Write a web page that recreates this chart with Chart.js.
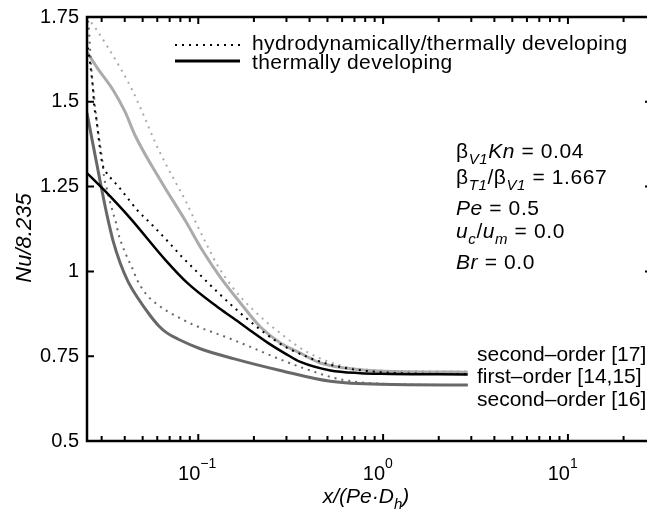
<!DOCTYPE html>
<html>
<head>
<meta charset="utf-8">
<script src="https://cdn.jsdelivr.net/npm/chart.js@4.4.1/dist/chart.umd.min.js"></script>
<style>
  html, body { margin: 0; padding: 0; background: #fff; overflow: hidden; }
  #wrap { position: absolute; left: 0; top: 0; width: 670px; height: 514px; }
</style>
</head>
<body>
<div id="wrap"><canvas id="chart" width="670" height="514"></canvas></div>
<script>
// Nu/8.235 vs x/(Pe*Dh)

// second-order [17] (light gray)
const so17ThermalX = [0.025, 0.0284, 0.0346, 0.0402, 0.0456, 0.0638, 0.085, 0.105, 0.1315, 0.169, 0.217, 0.278, 0.357, 0.458, 0.755, 1.3, 2.87];
const so17ThermalY = [1.647, 1.60, 1.535, 1.47, 1.40, 1.26, 1.15, 1.063, 0.983, 0.907, 0.836, 0.789, 0.759, 0.73, 0.71, 0.704, 0.703];
const so17HydroX = [0.025, 0.0277, 0.0325, 0.0378, 0.0439, 0.0516, 0.0585, 0.0662, 0.075, 0.085, 0.0988, 0.112, 0.127, 0.149, 0.169, 0.199, 0.237, 0.278, 0.327, 0.38, 0.488, 0.642, 1.244, 2.87];
const so17HydroY = [1.75, 1.718, 1.66, 1.60, 1.535, 1.45, 1.38, 1.32, 1.265, 1.21, 1.135, 1.075, 1.018, 0.962, 0.925, 0.886, 0.848, 0.818, 0.788, 0.765, 0.737, 0.718, 0.706, 0.705];

// first-order [14,15] (black)
const firstThermalX = [0.025, 0.0309, 0.0428, 0.0663, 0.0872, 0.127, 0.155, 0.191, 0.237, 0.297, 0.357, 0.519, 0.755, 0.969, 2.87];
const firstThermalY = [1.29, 1.24, 1.157, 1.034, 0.966, 0.895, 0.862, 0.826, 0.79, 0.757, 0.733, 0.708, 0.700, 0.698, 0.696];
const firstHydroX = [0.025, 0.0263, 0.027, 0.0273, 0.028, 0.0291, 0.0302, 0.0317, 0.0351, 0.0383, 0.0423, 0.0467, 0.0563, 0.0688, 0.0819, 0.1, 0.1237, 0.169, 0.211, 0.268, 0.304, 0.519, 0.969, 2.87];
const firstHydroY = [1.68, 1.59, 1.53, 1.49, 1.455, 1.38, 1.32, 1.293, 1.264, 1.24, 1.21, 1.181, 1.137, 1.087, 1.042, 0.995, 0.945, 0.877, 0.833, 0.792, 0.774, 0.725, 0.703, 0.697];

// second-order [16] (dark gray)
const so16ThermalX = [0.025, 0.0266, 0.0284, 0.0302, 0.0321, 0.0346, 0.0378, 0.0417, 0.0473, 0.0549, 0.061, 0.0679, 0.078, 0.1025, 0.155, 0.278, 0.519, 0.969, 2.87];
const so16ThermalY = [1.467, 1.39, 1.31, 1.235, 1.165, 1.09, 1.025, 0.97, 0.92, 0.87, 0.84, 0.818, 0.80, 0.772, 0.743, 0.708, 0.676, 0.667, 0.665];
const so16HydroX = [0.025, 0.0257, 0.0263, 0.027, 0.028, 0.0291, 0.0302, 0.0309, 0.0321, 0.0346, 0.0359, 0.0369, 0.0387, 0.0412, 0.0439, 0.0467, 0.0503, 0.0549, 0.0829, 0.155, 0.357, 0.611, 1.244, 2.87];
const so16HydroY = [1.78, 1.70, 1.61, 1.54, 1.46, 1.39, 1.33, 1.28, 1.24, 1.172, 1.143, 1.113, 1.078, 1.042, 1.01, 0.975, 0.945, 0.92, 0.857, 0.798, 0.718, 0.68, 0.667, 0.665];

// axes
const xMajorTicks = [0.1, 1, 10];
const xMajorExponents = ['\u22121', '0', '1'];
const xMinorTicks = [0.03, 0.04, 0.05, 0.06, 0.07, 0.08, 0.09, 0.2, 0.3, 0.4, 0.5, 0.6, 0.7, 0.8, 0.9, 2, 3, 4, 5, 6, 7, 8, 9, 20];
const yTicks = [0.5, 0.75, 1, 1.25, 1.5, 1.75];
const yTickLabels = ['0.5', '0.75', '1', '1.25', '1.5', '1.75'];

// curve end labels
const endLabels = ['second\u2013order [17]', 'first\u2013order [14,15]', 'second\u2013order [16]'];

const FONT = '"Liberation Sans", Arial, Helvetica, sans-serif';
const LIGHT = '#ababab';
const DARK = '#686868';

function pts(xs, ys) {
  return xs.map((x, i) => ({ x: x, y: ys[i] }));
}

function line(data, color, width, dotted) {
  return {
    data: data,
    borderColor: color,
    borderWidth: width,
    borderDash: dotted ? [2, 5] : [],
    borderCapStyle: 'butt',
    cubicInterpolationMode: 'monotone',
    pointRadius: 0,
    fill: false
  };
}

// draw text made of pieces: [text, style], style: '', 'i', 'sub', 'isub', 'sup'
function drawRich(ctx, x, y, parts, size) {
  let cx = x;
  parts.forEach(([t, st]) => {
    const small = st.includes('sub') || st.includes('sup');
    const fs = small ? Math.round(size * 0.72) : size;
    ctx.font = (st.startsWith('i') ? 'italic ' : '') + fs + 'px ' + FONT;
    let dy = 0;
    if (st.includes('sub')) dy = size * 0.3;
    if (st.includes('sup')) dy = -size * 0.5;
    ctx.fillText(t, cx, y + dy);
    cx += ctx.measureText(t).width;
  });
  return cx - x;
}

const axesPlugin = {
  id: 'matlabAxes',
  afterDraw(chart) {
    const ctx = chart.ctx;
    const a = chart.chartArea;
    const xs = chart.scales.x;
    const ys = chart.scales.y;
    ctx.save();
    ctx.fillStyle = '#000';
    ctx.strokeStyle = '#000';

    // box
    ctx.lineWidth = 2.5;
    ctx.strokeRect(a.left, a.top, a.right - a.left, a.bottom - a.top);

    // ticks, pointing in, on all sides
    ctx.lineWidth = 2;
    ctx.beginPath();
    xMajorTicks.concat(xMinorTicks).forEach(v => {
      const len = xMajorTicks.includes(v) ? 7 : 5;
      const px = xs.getPixelForValue(v);
      ctx.moveTo(px, a.bottom); ctx.lineTo(px, a.bottom - len);
      ctx.moveTo(px, a.top); ctx.lineTo(px, a.top + len);
    });
    yTicks.forEach(v => {
      const py = ys.getPixelForValue(v);
      ctx.moveTo(a.left, py); ctx.lineTo(a.left + 7, py);
      if (v !== 0.75) { ctx.moveTo(a.right, py); ctx.lineTo(a.right - 7, py); }
    });
    ctx.stroke();

    // y tick labels
    ctx.font = '20px ' + FONT;
    ctx.textAlign = 'right';
    ctx.textBaseline = 'middle';
    yTicks.forEach((v, i) => {
      ctx.fillText(yTickLabels[i], a.left - 8, ys.getPixelForValue(v));
    });

    // x tick labels 10^n
    ctx.textBaseline = 'alphabetic';
    xMajorTicks.forEach((v, i) => {
      const px = xs.getPixelForValue(v);
      ctx.font = '20px ' + FONT;
      ctx.textAlign = 'right';
      ctx.fillText('10', px + 2, a.bottom + 39);
      ctx.textAlign = 'left';
      ctx.font = '14px ' + FONT;
      ctx.fillText(xMajorExponents[i], px + 2, a.bottom + 27);
    });

    // axis titles
    ctx.textAlign = 'left';
    const xt = [['x/(Pe\u00b7D', 'i'], ['h', 'isub'], [')', 'i']];
    const w = drawRich(ctx, -1000, -1000, xt, 21);
    drawRich(ctx, 366 - w / 2, a.bottom + 62, xt, 21);

    ctx.save();
    ctx.translate(31, 238);
    ctx.rotate(-Math.PI / 2);
    ctx.font = 'italic 22px ' + FONT;
    ctx.textAlign = 'center';
    ctx.fillText('Nu/8.235', 0, 0);
    ctx.restore();

    // legend
    ctx.lineWidth = 2;
    ctx.setLineDash([2, 5]);
    ctx.beginPath(); ctx.moveTo(175, 45); ctx.lineTo(240, 45); ctx.stroke();
    ctx.setLineDash([]);
    ctx.lineWidth = 3;
    ctx.beginPath(); ctx.moveTo(175, 61); ctx.lineTo(240, 61); ctx.stroke();
    ctx.font = '21px ' + FONT;
    ctx.letterSpacing = '0.4px';
    ctx.textAlign = 'left';
    ctx.textBaseline = 'middle';
    ctx.fillText('hydrodynamically/thermally developing', 252, 44);
    ctx.fillText('thermally developing', 252, 63);

    // parameter block
    ctx.letterSpacing = '0.6px';
    ctx.textBaseline = 'alphabetic';
    const bx = 456;
    drawRich(ctx, bx, 158, [['\u03b2', ''], ['V1', 'isub'], ['Kn', 'i'], [' = 0.04', '']], 21);
    drawRich(ctx, bx, 184, [['\u03b2', ''], ['T1', 'isub'], ['/\u03b2', ''], ['V1', 'isub'], [' = 1.667', '']], 21);
    drawRich(ctx, bx, 215, [['Pe', 'i'], [' = 0.5', '']], 21);
    drawRich(ctx, bx, 238, [['u', 'i'], ['c', 'isub'], ['/', ''], ['u', 'i'], ['m', 'isub'], [' = 0.0', '']], 21);
    drawRich(ctx, bx, 269, [['Br', 'i'], [' = 0.0', '']], 21);

    // curve labels
    ctx.letterSpacing = '0px';
    ctx.font = '21px ' + FONT;
    ctx.textBaseline = 'middle';
    [355, 377, 400].forEach((py, i) => ctx.fillText(endLabels[i], 477, py));

    ctx.restore();
  }
};

new Chart(document.getElementById('chart'), {
  type: 'line',
  data: {
    datasets: [
      line(pts(firstThermalX, firstThermalY), '#000000', 2.5, false),
      line(pts(firstHydroX, firstHydroY), '#000000', 2, true),
      line(pts(so16ThermalX, so16ThermalY), DARK, 3, false),
      line(pts(so16HydroX, so16HydroY), DARK, 2, true),
      line(pts(so17ThermalX, so17ThermalY), LIGHT, 3, false),
      line(pts(so17HydroX, so17HydroY), LIGHT, 2, true)
    ]
  },
  options: {
    responsive: false,
    animation: false,
    layout: { padding: { left: 87, top: 17, right: 18, bottom: 73 } },
    plugins: { legend: { display: false }, tooltip: { enabled: false } },
    scales: {
      x: {
        type: 'logarithmic', min: 0.025, max: 28.5,
        ticks: { display: false }, grid: { display: false }, border: { display: false },
        afterFit: s => { s.height = 0; }
      },
      y: {
        type: 'linear', min: 0.5, max: 1.75,
        ticks: { display: false }, grid: { display: false }, border: { display: false },
        afterFit: s => { s.width = 0; }
      }
    }
  },
  plugins: [axesPlugin]
});
</script>
</body>
</html>
